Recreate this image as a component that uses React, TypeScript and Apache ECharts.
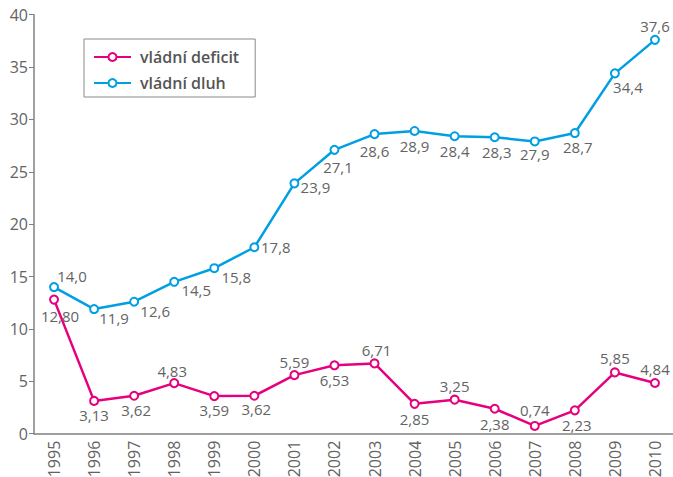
import React, { useEffect, useRef } from "react";
import * as echarts from "echarts";

const years = ["1995","1996","1997","1998","1999","2000","2001","2002","2003","2004","2005","2006","2007","2008","2009","2010"];
const deficit = [12.8, 3.13, 3.62, 4.83, 3.59, 3.62, 5.59, 6.53, 6.71, 2.85, 3.25, 2.38, 0.74, 2.23, 5.85, 4.84];
const debt = [14.0, 11.9, 12.6, 14.5, 15.8, 17.8, 23.9, 27.1, 28.6, 28.9, 28.4, 28.3, 27.9, 28.7, 34.4, 37.6];
const yTicks = [0, 5, 10, 15, 20, 25, 30, 35, 40];

// label placement (centre offset from the point, px)
const deficitLabelOffsets = [[6,16],[0,14.5],[2,14],[-2,-12.5],[0,14],[2,13.5],[0,-13.5],[0,15],[2,-13.5],[0,15],[0,-13.5],[0,15],[0,-15.5],[2,15],[0,-14],[0,-14.5]];
const debtLabelOffsets = [[18,-11],[20,9],[21,9],[22,8],[22,9],[21.5,0],[21,4],[3.5,17],[0,17],[0,15],[0,14.5],[2,15],[0,13],[3,14],[13,14],[0,-14]];

const fmt = (v: number, d: number) => v.toFixed(d).replace(".", ",");

export default function App() {
  const ref = useRef<HTMLDivElement>(null);
  useEffect(() => {
    if (!ref.current) return;
    const chart = echarts.init(ref.current, null, { renderer: "svg" });
    const labelFont = { fontFamily: "Open Sans", fontSize: 15, color: "#636363" };
    const mk = (vals: number[], offs: number[][], dec: number) =>
      vals.map((v, i) => ({
        value: v,
        label: { show: true, position: "inside", offset: offs[i], formatter: () => fmt(v, dec), ...labelFont },
      }));
    chart.setOption({
      animation: false,
      grid: { left: 34, top: 14.7, width: 641, height: 419, containLabel: false, outerBoundsMode: "none" },
      legend: {
        orient: "vertical",
        left: 84,
        top: 39,
        padding: [10, 16, 6, 9],
        itemGap: 10,
        itemWidth: 37,
        itemHeight: 10,
        borderColor: "#8a8a8a",
        borderWidth: 1,
        borderRadius: 0,
        textStyle: { fontFamily: "Open Sans", fontSize: 16, fontWeight: 600, color: "#555", padding: [0, 0, 0, 4], lineHeight: 14 },
        data: ["vládní deficit", "vládní dluh"],
      },
      xAxis: {
        type: "category",
        data: years,
        boundaryGap: true,
        axisLine: { lineStyle: { color: "#808080", width: 1.5 } },
        axisTick: { inside: true, length: 6, lineStyle: { color: "#808080", width: 1 } },
        axisLabel: { rotate: 90, margin: 7, fontFamily: "Open Sans", fontSize: 16, color: "#636363" },
      },
      yAxis: {
        type: "value",
        min: yTicks[0],
        max: yTicks[yTicks.length - 1],
        interval: 5,
        splitLine: { show: false },
        axisLine: { show: true, lineStyle: { color: "#808080", width: 1.5 } },
        axisTick: { show: true, inside: false, length: 5, lineStyle: { color: "#808080", width: 1 } },
        axisLabel: { margin: 6, fontFamily: "Open Sans", fontSize: 16, color: "#636363" },
      },
      series: [
        {
          name: "vládní deficit",
          type: "line",
          data: mk(deficit, deficitLabelOffsets, 2),
          symbol: "emptyCircle",
          symbolSize: 8,
          color: "#e6007e",
          lineStyle: { width: 2.5, color: "#e6007e" },
          itemStyle: { color: "#e6007e", borderWidth: 2, borderColor: "#e6007e" },
          z: 3,
        },
        {
          name: "vládní dluh",
          type: "line",
          data: mk(debt, debtLabelOffsets, 1),
          symbol: "emptyCircle",
          symbolSize: 8,
          color: "#009fe3",
          lineStyle: { width: 2.5, color: "#009fe3" },
          itemStyle: { color: "#009fe3", borderWidth: 2, borderColor: "#009fe3" },
          z: 2,
        },
      ],
    });
    return () => chart.dispose();
  }, []);
  return (
    <div
      ref={ref}
      style={{ position: "fixed", left: 0, top: 0, width: 673, height: 477, background: "#fff" }}
    />
  );
}
